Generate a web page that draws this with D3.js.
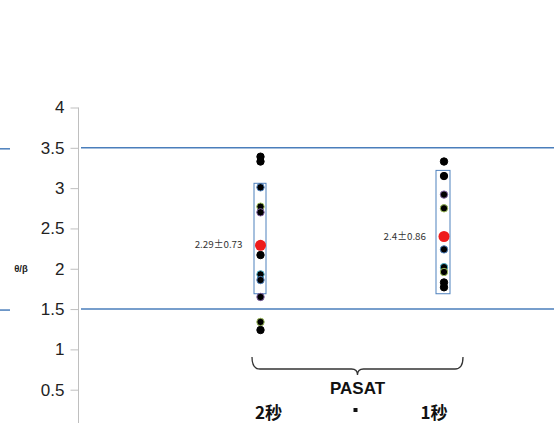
<!DOCTYPE html>
<html><head><meta charset="utf-8">
<script src="https://cdn.jsdelivr.net/npm/d3@7"></script>
<style>body{margin:0;background:#fff;overflow:hidden}svg{display:block}</style>
</head><body>
<svg id="c" width="554" height="423"></svg>
<script>
const categories = ["2秒", "1秒"];
const values2s = [3.39, 3.33, 3.01, 2.77, 2.70, 2.17, 1.93, 1.86, 1.65, 1.34, 1.24];
const outline2s = ["#000", "#000", "#4f81bd", "#9bbb59", "#8064a2", "#000", "#4bacc6", "#4f81bd", "#8064a2", "#9bbb59", "#000"];
const values1s = [3.33, 3.15, 2.92, 2.75, 2.24, 2.02, 1.96, 1.83, 1.77];
const outline1s = ["#000", "#000", "#8064a2", "#9bbb59", "#4f81bd", "#4bacc6", "#9bbb59", "#000", "#000"];
const means = [2.29, 2.40];
const sds = [0.73, 0.86];
const meanLabels = ["2.29\u00b10.73", "2.4\u00b10.86"];
const boxTop = [3.06, 3.22];
const boxBottom = [1.69, 1.69];
const refLines = [3.5, 1.5];
const yTicks = [0, 0.5, 1, 1.5, 2, 2.5, 3, 3.5, 4];
const yTickLabels = ["0", "0.5", "1", "1.5", "2", "2.5", "3", "3.5", "4"];
const axisTitle = "\u03b8/\u03b2";
const groupTitle = "PASAT";

const svg = d3.select("#c");
const y = d3.scaleLinear().domain([0, 4]).range([430, 107.5]);
const x = d3.scaleLinear().domain([0, 1]).range([260.5, 444]);
const font = "'Liberation Sans', Arial, sans-serif";
const cjk = "'Noto Sans CJK JP', 'Liberation Sans', sans-serif";

// y axis
const axisX = 78.5;
const ax = svg.append("g").attr("transform", `translate(${axisX},0)`)
  .call(d3.axisLeft(y).tickValues(yTicks).tickFormat((d, i) => yTickLabels[i]).tickSize(8).tickPadding(6));
ax.select(".domain").attr("stroke", "#bfbfbf").attr("d", `M0,${y(4)}V${y(0)}`);
ax.selectAll(".tick line").attr("stroke", "#bfbfbf");
ax.selectAll(".tick text").attr("font-family", font).attr("font-size", 17).attr("fill", "#222");

svg.append("text").attr("x", 21).attr("y", y(2) + 3.5).attr("text-anchor", "middle")
  .attr("font-family", font).attr("font-size", 9.5).attr("font-weight", "bold").attr("fill", "#222").text(axisTitle);

// reference lines
refLines.forEach(v => {
  svg.append("line").attr("x1", 81).attr("x2", 554).attr("y1", y(v)).attr("y2", y(v))
    .attr("stroke", "#4a7ebb").attr("stroke-width", 1.5);
  svg.append("line").attr("x1", 0).attr("x2", 10).attr("y1", y(v) + 1).attr("y2", y(v) + 1)
    .attr("stroke", "#4a7ebb").attr("stroke-width", 1.5);
});

// boxes
[0, 1].forEach(i => {
  const w = i === 0 ? 12 : 14;
  svg.append("rect").attr("x", x(i) - w / 2 - (i === 0 ? 0.5 : 1)).attr("y", y(boxTop[i]))
    .attr("width", w).attr("height", y(boxBottom[i]) - y(boxTop[i]))
    .attr("fill", "none").attr("stroke", "#4f81bd").attr("stroke-width", 1);
});

// dots
const series = [{v: values2s, o: outline2s}, {v: values1s, o: outline1s}];
series.forEach((s, i) => {
  svg.append("g").selectAll("circle").data(s.v).join("circle")
    .attr("cx", x(i)).attr("cy", d => y(d)).attr("r", 3.7)
    .attr("fill", "#000").attr("stroke", (d, j) => s.o[j]).attr("stroke-width", 1);
});

// means
svg.append("g").selectAll("circle").data(means).join("circle")
  .attr("cx", (d, i) => x(i)).attr("cy", d => y(d)).attr("r", 5.5).attr("fill", "#ee1c1c");

svg.append("g").selectAll("text").data(meanLabels).join("text")
  .attr("x", (d, i) => x(i) - 18).attr("y", (d, i) => y(means[i]) + 3)
  .attr("text-anchor", "end").attr("font-family", cjk).attr("font-size", 9.8).attr("fill", "#333")
  .text(d => d);

// brace
const bx0 = x(0) - 8.5, bx1 = x(1) + 19, by0 = 357, by1 = 369, bmid = (bx0 + bx1) / 2;
svg.append("path")
  .attr("d", `M${bx0},${by0} Q${bx0},${by1} ${bx0 + 8},${by1} L${bmid - 6},${by1} Q${bmid},${by1} ${bmid},${by1 + 6} Q${bmid},${by1} ${bmid + 6},${by1} L${bx1 - 8},${by1} Q${bx1},${by1} ${bx1},${by0}`)
  .attr("fill", "none").attr("stroke", "#333").attr("stroke-width", 1.3);

svg.append("text").attr("x", bmid).attr("y", 394).attr("text-anchor", "middle")
  .attr("font-family", font).attr("font-weight", "bold").attr("font-size", 17).attr("fill", "#111").text(groupTitle);

svg.append("g").selectAll("text").data(categories).join("text")
  .attr("x", (d, i) => i === 0 ? x(0) + 8 : x(1) - 10).attr("y", 419).attr("text-anchor", "middle")
  .attr("font-family", cjk).attr("font-weight", "bold").attr("font-size", 17).attr("fill", "#111")
  .text(d => d);
svg.append("rect").attr("x", bmid - 4).attr("y", 408).attr("width", 4).attr("height", 4).attr("fill", "#111");
</script>
</body></html>
